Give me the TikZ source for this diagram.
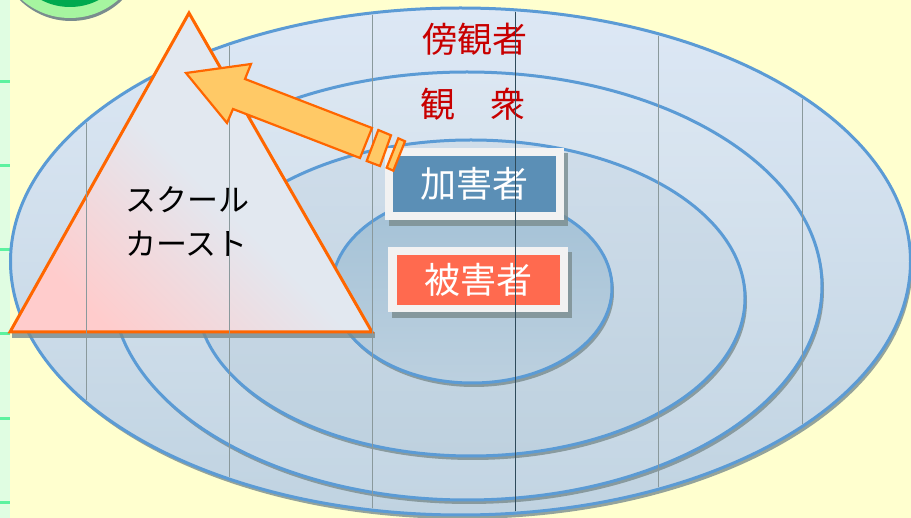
\documentclass[tikz,border=0pt]{standalone}
\usepackage{fontspec}
\newfontfamily\jp{Noto Sans CJK JP}
\definecolor{bgyellow}{HTML}{FFFFCF}
\definecolor{stripgreen}{HTML}{E0FDE2}
\definecolor{tickgreen}{HTML}{5CF2A0}
\definecolor{ringgreen}{HTML}{A6F5A0}
\definecolor{darkgreen}{HTML}{00A94F}
\definecolor{shadowgray}{HTML}{7A8C8E}
\definecolor{ellblue}{HTML}{5B9BD5}
\definecolor{eatop}{HTML}{DDE8F5}
\definecolor{eabot}{HTML}{C0D3E1}
\definecolor{ebtop}{HTML}{DCE7F2}
\definecolor{ebbot}{HTML}{C3D5E3}
\definecolor{ectop}{HTML}{CFDDEA}
\definecolor{ecbot}{HTML}{BED1DF}
\definecolor{edtop}{HTML}{A3C1D6}
\definecolor{edbot}{HTML}{BCD0DF}
\definecolor{tripink}{HTML}{FFCCCC}
\definecolor{triblue}{HTML}{E2E8F0}
\definecolor{triorange}{HTML}{FF6600}
\definecolor{arrowfill}{HTML}{FFC966}
\definecolor{labelred}{HTML}{C80000}
\definecolor{boxblue}{HTML}{5B8FB6}
\definecolor{boxred}{HTML}{FF6A4F}
\definecolor{boxwhite}{HTML}{F2F2F2}
\definecolor{gridgray}{HTML}{8A999C}
\definecolor{griddark}{HTML}{2E4A5A}
\begin{document}
\begin{tikzpicture}[x=1pt,y=-1pt,
  ellshape/.style={draw=ellblue, line width=3pt},
  ellshadow/.style={fill=shadowgray, opacity=0.8},
  redlabel/.style={text=labelred, inner sep=0pt, font=\fontsize{35}{40}\selectfont\jp},
  boxouter/.style={fill=boxwhite, inner sep=0pt},
  boxinner/.style={inner sep=0pt, text=white, font=\fontsize{36}{40}\selectfont\jp},
  boxshadow/.style={fill=shadowgray, opacity=0.8},
  gridline/.style={draw=gridgray, line width=0.8pt},
  arrowshape/.style={fill=arrowfill, draw=triorange, line width=2.2pt, line join=miter}
]
\useasboundingbox (0,0) rectangle (911,518);
% background
\fill[bgyellow] (0,0) rectangle (911,518);
\fill[stripgreen] (0,0) rectangle (10,518);
\foreach \y in {82,166,250,334,419,503}
  \fill[tickgreen] (0,\y-1.5) rectangle (10,\y+1.5);
% green circle at top left
\fill[shadowgray] (71,-52) circle[radius=73pt];
\fill[ringgreen] (70,-55) circle[radius=73pt];
\fill[darkgreen] (70,-55) circle[radius=62pt];
% ellipses
\fill[ellshadow] (462.5,265.5) ellipse[x radius=450pt, y radius=253.5pt];
\path[ellshape, top color=eatop, bottom color=eabot] (460.5,261.5) ellipse[x radius=450pt, y radius=253.5pt];
\fill[ellshadow] (469,290) ellipse[x radius=355pt, y radius=214pt];
\path[ellshape, top color=ebtop, bottom color=ebbot] (467,286) ellipse[x radius=355pt, y radius=214pt];
\fill[ellshadow] (473,302) ellipse[x radius=274pt, y radius=158pt];
\path[ellshape, top color=ectop, bottom color=ecbot] (471,298) ellipse[x radius=274pt, y radius=158pt];
\fill[ellshadow] (474,292) ellipse[x radius=140pt, y radius=95pt];
\path[ellshape, top color=edtop, bottom color=edbot] (472,288) ellipse[x radius=140pt, y radius=95pt];
% triangle
\fill[shadowgray, opacity=0.8] (12,332) rectangle (375,338);
\path[draw=triorange, line width=3pt, line join=miter, top color=triblue, bottom color=tripink, middle color=triblue, shading angle=-45]
  (189,13) -- (10,332) -- (372,332) -- cycle;
\node[anchor=west, align=left, inner sep=0pt, font=\fontsize{31}{44}\selectfont\jp] (caste) at (125,221) {スクール\\カースト};
% labels
\node[redlabel] (bystander) at (475,39) {傍観者};
\node[redlabel] (audience) at (472.5,104) {観　衆};
% perpetrator box
\fill[boxshadow] (389,153) rectangle (568,226);
\node[boxouter, minimum width=179pt, minimum height=72pt] (perpout) at (474.5,184) {};
\node[boxinner, fill=boxblue, minimum width=163pt, minimum height=56pt] (perp) at (474.5,184) {加害者};
% victim box
\fill[boxshadow] (392,252) rectangle (572,318);
\node[boxouter, minimum width=180pt, minimum height=65pt] (victout) at (478,279.5) {};
\node[boxinner, fill=boxred, minimum width=163pt, minimum height=50pt] (vict) at (478.5,280) {被害者};
% grid lines
\begin{scope}
  \clip (460.5,261.5) ellipse[x radius=448pt, y radius=251.5pt];
  \foreach \x in {86,229,372,658,802}
    \draw[gridline] (\x,0) -- (\x,518);
  \draw[draw=griddark, line width=0.9pt] (515,0) -- (515,518);
\end{scope}
% arrow
\path[arrowshape] (186,73) -- (251,64) -- (245,79) -- (372,128) -- (360,158) -- (233,109) -- (227,123) -- cycle;
\path[arrowshape] (378.3,130) -- (391,135.3) -- (380,166) -- (366.7,161) -- cycle;
\path[arrowshape] (398.3,138.3) -- (405,141.3) -- (393.3,170.7) -- (386.7,167.7) -- cycle;
\end{tikzpicture}
\end{document}
